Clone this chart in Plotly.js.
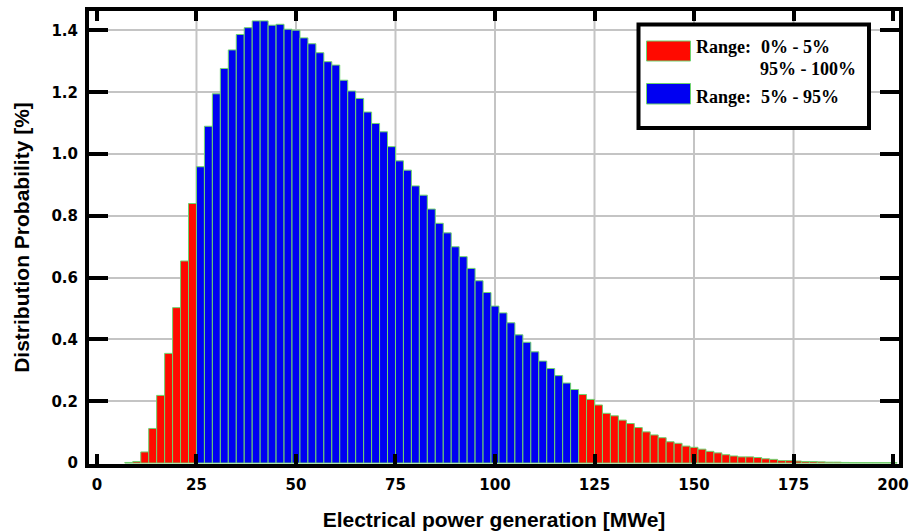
<!DOCTYPE html>
<html>
<head>
<meta charset="utf-8">
<script src="https://cdn.plot.ly/plotly-3.0.1.min.js"></script>
<style>
  html, body { margin: 0; padding: 0; background: #ffffff; }
  #chart { width: 910px; height: 531px; }
</style>
</head>
<body>
<div id="chart"></div>
<script>
// ---- data (bin centres in MWe, bin width 2 MWe; values in %) ----
const lowTailX = [8, 10, 12, 14, 16, 18, 20, 22, 24];
const lowTailY = [0.002, 0.005, 0.036, 0.112, 0.219, 0.355, 0.503, 0.654, 0.840];

const midX = [26, 28, 30, 32, 34, 36, 38, 40, 42, 44, 46, 48, 50, 52, 54, 56, 58, 60,
              62, 64, 66, 68, 70, 72, 74, 76, 78, 80, 82, 84, 86, 88, 90, 92, 94, 96, 98,
              100, 102, 104, 106, 108, 110, 112, 114, 116, 118, 120];
const midY = [0.959, 1.090, 1.195, 1.277, 1.337, 1.387, 1.409, 1.431, 1.431, 1.417, 1.420, 1.404, 1.401, 1.376, 1.357, 1.328, 1.299, 1.288,
              1.239, 1.204, 1.180, 1.136, 1.099, 1.072, 1.024, 0.978, 0.948, 0.897, 0.867, 0.822, 0.776, 0.745, 0.700, 0.668, 0.630, 0.590, 0.552,
              0.508, 0.486, 0.454, 0.415, 0.391, 0.360, 0.330, 0.306, 0.283, 0.259, 0.238];

const highTailX = [122, 124, 126, 128, 130, 132, 134, 136, 138, 140, 142, 144, 146, 148, 150, 152, 154, 156, 158, 160,
                   162, 164, 166, 168, 170, 172, 174, 176, 178, 180, 182, 184, 186, 188, 190, 192, 194, 196, 198, 200];
const highTailY = [0.222, 0.206, 0.188, 0.161, 0.153, 0.139, 0.128, 0.115, 0.101, 0.091, 0.082, 0.069, 0.064, 0.055, 0.051, 0.045, 0.038, 0.033, 0.027, 0.023,
                   0.020, 0.020, 0.018, 0.014, 0.012, 0.008, 0.008, 0.0065, 0.005, 0.005, 0.004, 0.003, 0.003, 0.002, 0.0015, 0.0015, 0.0015, 0.0015, 0.0015, 0.0015];

const xTickVals = [0, 25, 50, 75, 100, 125, 150, 175, 200];
const xGridVals = [25, 50, 75, 100, 125, 150, 175];
const yTickVals = [0, 0.2, 0.4, 0.6, 0.8, 1.0, 1.2, 1.4];
const yTickText = ['0', '0.2', '0.4', '0.6', '0.8', '1.0', '1.2', '1.4'];

const legendRed = ['Range:', '0% - 5%', '95% - 100%'];
const legendBlue = ['Range:', '5% - 95%'];

// ---- styling ----
const RED = '#ff0a00';
const BLUE = '#0000f2';
const EDGE = '#6ed36e';
const GRID = '#c4c4c4';

// plot area in pixels (for the hand-drawn legend box)
const M = { l: 89, r: 11, t: 11, b: 67 };
const W = 910, H = 531;
const PW = W - M.l - M.r, PH = H - M.t - M.b;
const px = v => (v - M.l) / PW;
const py = v => (H - M.b - v) / PH;

const traces = [
  {
    type: 'bar',
    name: 'Range: 0% - 5% / 95% - 100%',
    x: lowTailX.concat(highTailX),
    y: lowTailY.concat(highTailY),
    marker: { color: RED, line: { color: EDGE, width: 1 } },
    hoverinfo: 'skip'
  },
  {
    type: 'bar',
    name: 'Range: 5% - 95%',
    x: midX,
    y: midY,
    marker: { color: BLUE, line: { color: EDGE, width: 1 } },
    hoverinfo: 'skip'
  }
];

const shapes = xGridVals.map(v => ({
  type: 'line', xref: 'x', yref: 'paper', x0: v, x1: v, y0: 0, y1: 1,
  line: { color: GRID, width: 2 }, layer: 'below'
}));

// legend box and swatches
shapes.push({
  type: 'rect', xref: 'paper', yref: 'paper',
  x0: px(638.5), x1: px(869), y0: py(128), y1: py(24.5),
  fillcolor: '#ffffff', line: { color: '#000000', width: 4 }, layer: 'above'
});
shapes.push({
  type: 'rect', xref: 'paper', yref: 'paper',
  x0: px(646.5), x1: px(690.5), y0: py(61), y1: py(41),
  fillcolor: RED, line: { color: EDGE, width: 1 }, layer: 'above'
});
shapes.push({
  type: 'rect', xref: 'paper', yref: 'paper',
  x0: px(646.5), x1: px(690.5), y0: py(104), y1: py(83.5),
  fillcolor: BLUE, line: { color: EDGE, width: 1 }, layer: 'above'
});

const legFont = { family: 'Liberation Serif, Times New Roman, serif', size: 18, color: '#000000', weight: 'bold' };
function legText(text, x, y) {
  return { xref: 'paper', yref: 'paper', x: px(x), y: py(y), text: '<b>' + text + '</b>',
           showarrow: false, xanchor: 'left', yanchor: 'middle', font: legFont, borderpad: 0 };
}
const annotations = [
  legText(legendRed[0], 695, 47),
  legText(legendRed[1], 760, 47),
  legText(legendRed[2], 759, 68.5),
  legText(legendBlue[0], 695, 97.5),
  legText(legendBlue[1], 760, 97.5)
];

const tickFont = { family: 'DejaVu Sans, sans-serif', size: 15, color: '#000000', weight: 'bold' };

const layout = {
  width: W, height: H,
  margin: M,
  paper_bgcolor: '#ffffff',
  plot_bgcolor: '#ffffff',
  showlegend: false,
  barmode: 'overlay',
  bargap: 0,
  xaxis: {
    range: [-2, 201.5],
    tickmode: 'array', tickvals: xTickVals,
    showgrid: false, zeroline: false,
    showline: true, linecolor: '#000000', linewidth: 4, mirror: 'ticks',
    ticks: 'inside', ticklen: 10, tickwidth: 4, tickcolor: '#000000',
    tickfont: tickFont, ticklabelstandoff: 4,
    title: { text: '<b>Electrical power generation [MWe]</b>', font: { family: 'Liberation Sans, Arial, sans-serif', size: 21, color: '#000000' }, standoff: 22 }
  },
  yaxis: {
    range: [-0.003, 1.463],
    tickmode: 'array', tickvals: yTickVals, ticktext: yTickText,
    showgrid: true, gridcolor: GRID, gridwidth: 2, zeroline: false,
    showline: true, linecolor: '#000000', linewidth: 4, mirror: 'ticks',
    ticks: 'inside', ticklen: 19, tickwidth: 4, tickcolor: '#000000',
    tickfont: tickFont, ticklabelstandoff: 4,
    title: { text: '<b>Distribution Probability [%]</b>', font: { family: 'Liberation Sans, Arial, sans-serif', size: 21, color: '#000000' }, standoff: 17 }
  },
  shapes: shapes,
  annotations: annotations
};

Plotly.newPlot('chart', traces, layout, { staticPlot: true, displayModeBar: false });
</script>
</body>
</html>
